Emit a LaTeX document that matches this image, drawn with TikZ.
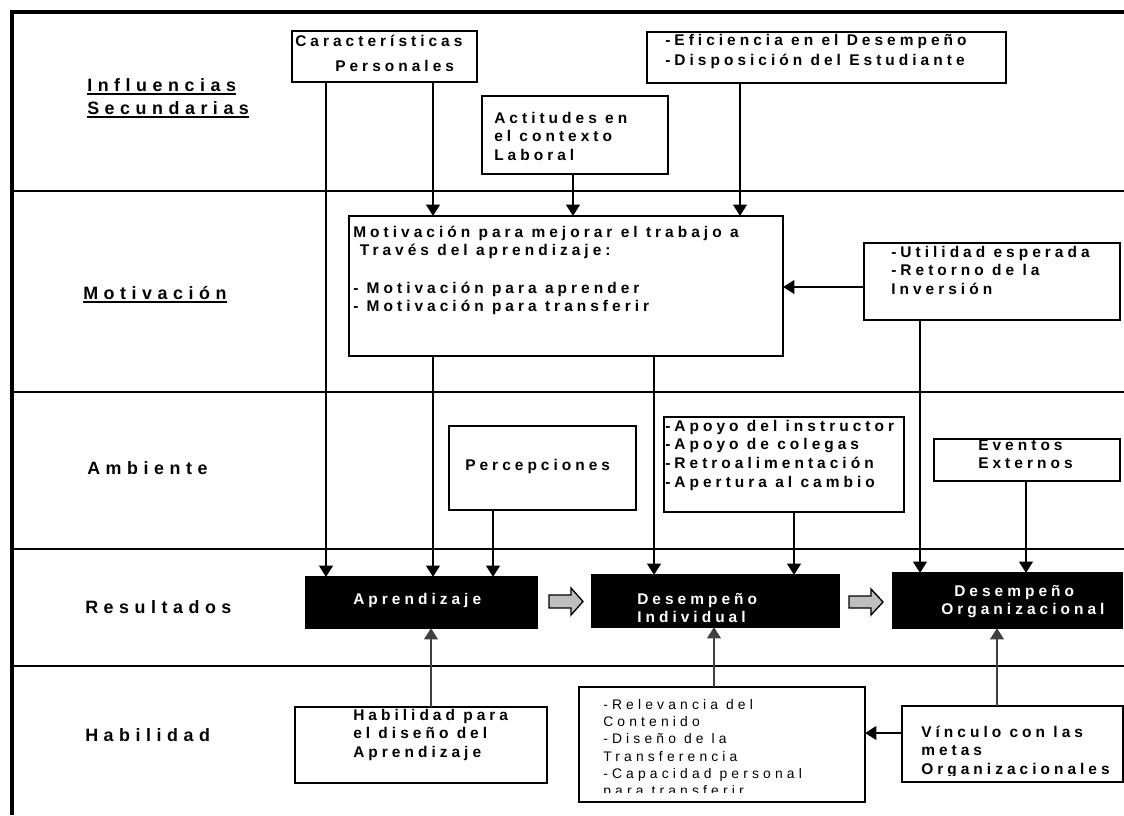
\documentclass[tikz,border=0pt]{standalone}
\usepackage{fontspec}
\setmainfont{Liberation Sans}
\newfontfamily\bxf{Liberation Sans}[LetterSpace=26]
\newfontfamily\lbf{Liberation Sans}[LetterSpace=31]
\newfontfamily\rgf{Liberation Sans}[LetterSpace=30]
\usetikzlibrary{arrows.meta,fit,calc}
\newcommand{\mlines}[1]{\vtop{\halign{##\hfil\cr#1\crcr}}}
\tikzset{
 box/.style={draw, line width=1.2pt, fill=white, inner sep=0pt, outer sep=0pt},
 blk/.style={draw, fill=black, line width=1.2pt, inner sep=0pt, outer sep=0pt},
 txt/.style={inner sep=0pt, anchor=base west, font=\bxf\bfseries\fontsize{11.6pt}{14pt}\selectfont},
 wtxt/.style={txt, text=white},
 rtxt/.style={inner sep=0pt, anchor=base west, font=\rgf\fontsize{10.4pt}{13pt}\selectfont},
 lbl/.style={inner sep=0pt, anchor=base west, font=\lbf\bfseries\fontsize{13.4pt}{16pt}\selectfont},
 arr/.style={line width=2.1pt, -{Triangle[length=8.5pt,width=10pt]}},
 uarr/.style={arr, draw=black!75, fill=black!75},
 rowline/.style={line width=1.8pt},
 uline/.style={line width=1.3pt},
 gar/.style={draw, line width=1pt, fill=black!25, line join=miter}
}
\begin{document}
\begin{tikzpicture}[x=0.75pt,y=-0.75pt]
\useasboundingbox (0,0) rectangle (1124,815);
% frame and row lines
\draw[line width=2.3pt] (1124,12) -- (12,12) -- (12,815);
\foreach \yy in {191,392,549,666} \draw[rowline] (12,\yy) -- (1124,\yy);

% row labels
\node[lbl] (linf1) at (87,91) {Influencias};
\node[lbl] (linf2) at (87,114) {Secundarias};
\node[lbl] (lmot) at (83,299) {Motivación};
\node[lbl] (lamb) at (87,474) {Ambiente};
\node[lbl] (lres) at (85,613) {Resultados};
\node[lbl] (lhab) at (85,741) {Habilidad};
\draw[uline] ([yshift=-2.3pt]linf1.base west) -- ([yshift=-2.3pt]linf1.base east);
\draw[uline] ([yshift=-2.3pt]linf2.base west) -- ([yshift=-2.3pt]linf2.base east);
\draw[uline] ([yshift=-2.3pt]lmot.base west) -- ([yshift=-2.3pt]lmot.base east);

% boxes
\node[box, fit={(292,31)(477,82)}] (carac) {};
\node[box, fit={(647,32)(1006,83)}] (efic) {};
\node[box, fit={(482,96)(668,174)}] (actit) {};
\node[box, fit={(349,216)(783,356)}] (motiv) {};
\node[box, fit={(864,243)(1120,320)}] (util) {};
\node[box, fit={(449,426)(636,510)}] (perc) {};
\node[box, fit={(664,417)(904,512)}] (apoyo) {};
\node[box, fit={(934,439)(1120,481)}] (evt) {};
\node[box, fit={(295,707)(547,783)}] (habil) {};
\node[box, fit={(579,687)(865,802)}] (relev) {};
\node[box, fit={(902,706)(1123,782)}] (vinc) {};
\node[blk, fit={(306,577)(537,628)}] (apr) {};
\node[blk, fit={(592,575)(839,627)}] (dind) {};
\node[blk, fit={(893,573)(1122,628)}] (dorg) {};

% block arrows between results
\draw[gar] (549,595) -- (571,595) -- (571,588) -- (583,601.5) -- (571,615) -- (571,608) -- (549,608) -- cycle;
\draw[gar] (849,596) -- (871,596) -- (871,589) -- (883,602) -- (871,615) -- (871,608) -- (849,608) -- cycle;

% connectors
\draw[arr] (carac.south -| 326,0) -- (apr.north -| 326,0);
\draw[arr] (carac.south -| 433,0) -- (motiv.north -| 433,0);
\draw[arr] (actit.south -| 573,0) -- (motiv.north -| 573,0);
\draw[arr] (efic.south -| 740,0) -- (motiv.north -| 740,0);
\draw[arr] (util.west |- 0,287) -- (motiv.east |- 0,287);
\draw[arr] (motiv.south -| 433,0) -- (apr.north -| 433,0);
\draw[arr] (motiv.south -| 654,0) -- (dind.north -| 654,0);
\draw[arr] (util.south -| 920,0) -- (dorg.north -| 920,0);
\draw[arr] (perc.south -| 493,0) -- (apr.north -| 493,0);
\draw[arr] (apoyo.south -| 794,0) -- (dind.north -| 794,0);
\draw[arr] (evt.south -| 1026,0) -- (dorg.north -| 1026,0);
\draw[uarr] (habil.north -| 431,0) -- (apr.south -| 431,0);
\draw[uarr] (relev.north -| 714,0) -- (dind.south -| 714,0);
\draw[uarr] (vinc.north -| 997,0) -- (dorg.south -| 997,0);
\draw[arr] (vinc.west |- 0,733) -- (relev.east |- 0,733);

% texts
\node[txt] (tcarac) at (295,46) {\mlines{Características\cr\noalign{\vskip5.25pt}\hskip30pt Personales}};
\node[txt] (tefic) at (665,45) {\mlines{-Eficiencia en el Desempeño\cr\noalign{\vskip1.5pt}-Disposición del Estudiante}};
\node[txt] (tact) at (494,123) {\mlines{Actitudes en\cr el contexto\cr Laboral}};
\node[txt] (tmot) at (353,237) {\mlines{Motivación para mejorar el trabajo a\cr\hskip5pt Través del aprendizaje:\cr\cr- Motivación para aprender\cr- Motivación para transferir}};
\node[txt] (tutil) at (891,257) {\mlines{-Utilidad esperada\cr-Retorno de la\cr Inversión}};
\node[txt] (tperc) at (465,470) {Percepciones};
\node[txt] (tapo) at (665,431) {\mlines{-Apoyo del instructor\cr-Apoyo de colegas\cr-Retroalimentación\cr-Apertura al cambio}};
\node[txt] (tevt) at (978,450) {\mlines{Eventos\cr Externos}};
\node[wtxt] (tapr) at (353,604) {Aprendizaje};
\node[wtxt] (tdind) at (637,604) {\mlines{Desempeño\cr Individual}};
\node[wtxt] (tdorg) at (941,596) {\mlines{\hskip9.75pt Desempeño\cr Organizacional}};
\node[txt] (thab) at (353,720) {\mlines{Habilidad para\cr el diseño del\cr Aprendizaje}};
\begin{scope}
\clip (579,687) rectangle (865,792);
\node[rtxt] (trel) at (603,709) {\mlines{-Relevancia del\cr Contenido\cr-Diseño de la\cr Transferencia\cr-Capacidad personal\cr para transferir}};
\end{scope}
\begin{scope}
\clip (902,706) rectangle (1123,775);
\node[txt] (tvin) at (921,737) {\mlines{Vínculo con las\cr metas\cr Organizacionales}};
\end{scope}
\end{tikzpicture}
\end{document}
